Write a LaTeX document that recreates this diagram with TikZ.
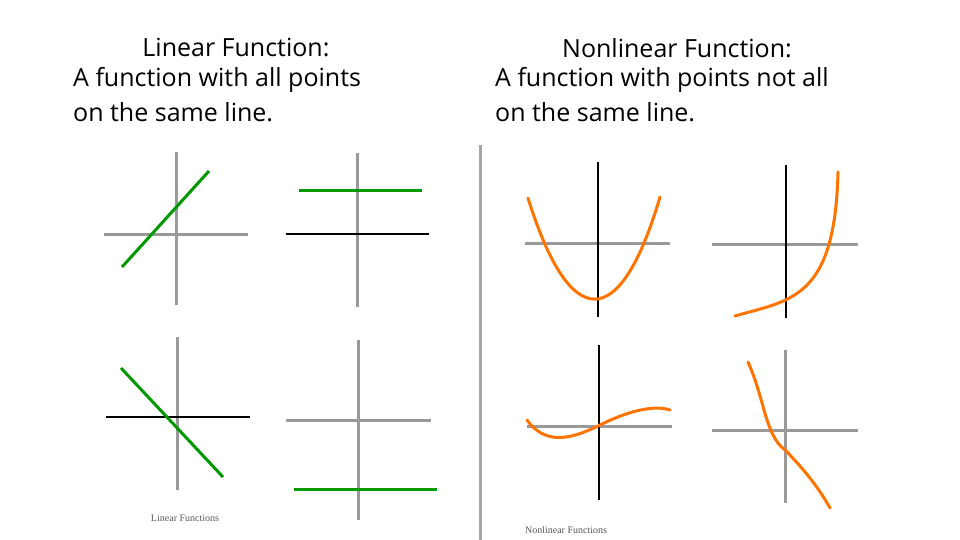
\documentclass[tikz,border=0pt]{standalone}
\usepackage{fontspec}
\setmainfont{Open Sans}
\newfontfamily\capfont{Liberation Serif}
\tikzset{
  axgray/.style={draw=gray!80, line width=3pt},
  axblack/.style={draw=black, line width=2pt},
  lin/.style={draw=green!60!black, line width=3pt},
  nonlin/.style={draw=orange!90!red, line width=3pt, line cap=round},
  head/.style={font=\fontsize{25}{30}\selectfont, align=left, anchor=west, inner sep=0pt},
  captext/.style={font=\capfont\fontsize{10}{12}\selectfont, text=gray!70!black}
}
\begin{document}
\begin{tikzpicture}[x=1pt,y=-1pt]
\useasboundingbox (0,0) rectangle (960,540);

% headings
\node[font=\fontsize{25}{30}\selectfont] (lt) at (236,48) {Linear Function:};
\node[head] (l1) at (73,80) {A function with all points};
\node[head] (l2) at (73,112) {on the same line.};
\node[font=\fontsize{25}{30}\selectfont] (nt) at (677,48) {Nonlinear Function:};
\node[head] (n1) at (495,80) {A function with points not all};
\node[head] (n2) at (495,112) {on the same line.};

% divider
\draw[draw=gray!70, line width=3pt] (480,145) -- (480,540);

% linear graphs
\draw[axgray] (104,234) -- (248,234);
\draw[axgray] (176,152) -- (176,305);
\draw[lin] (122,267) -- (209,171);

\draw[axgray] (357,153) -- (357,307);
\draw[axblack] (286,234) -- (429,234);
\draw[lin] (299,190) -- (422,190);

\draw[axgray] (177,337) -- (177,490);
\draw[axblack] (106,417) -- (250,417);
\draw[lin] (121,368) -- (223,477);

\draw[axgray] (358,340) -- (358,520);
\draw[axgray] (286,420) -- (431,420);
\draw[lin] (294,489) -- (437,489);

\node[captext] (lc) at (185,518) {Linear Functions};

% nonlinear graphs
\draw[axgray] (525,243) -- (670,243);
\draw[axblack] (598,162) -- (598,317);
\draw[nonlin] (528,198) .. controls (570,333) and (620,333) .. (660,197);

\draw[axgray] (712,244) -- (858,244);
\draw[axblack] (786,165) -- (786,318);
\draw[nonlin] (735,316) .. controls (790,300) and (835,300) .. (838,172);

\draw[axgray] (527,426) -- (672,426);
\draw[axblack] (599,345) -- (599,500);
\draw[nonlin] (527,420) .. controls (545,445) and (570,440) .. (600,425)
  .. controls (630,410) and (655,405) .. (670,410);

\draw[axgray] (712,430) -- (858,430);
\draw[axgray] (785,350) -- (785,503);
\draw[nonlin] (748,362) .. controls (765,400) and (765,435) .. (785,450)
  .. controls (805,470) and (820,490) .. (830,508);

\node[captext] (nc) at (566,530) {Nonlinear Functions};
\end{tikzpicture}
\end{document}
